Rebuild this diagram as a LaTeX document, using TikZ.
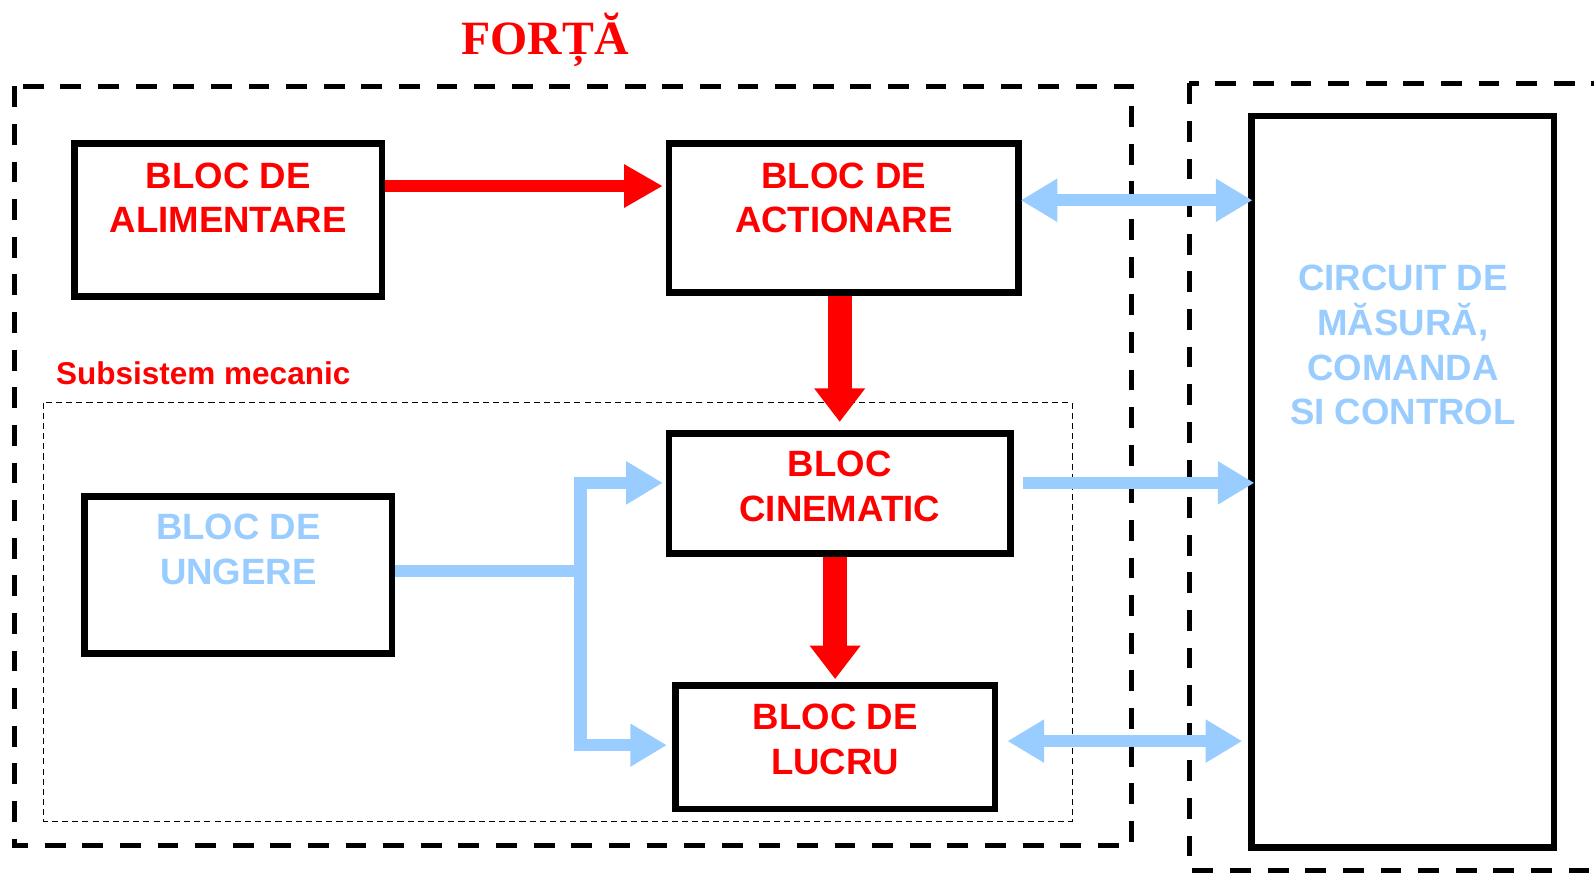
\documentclass[tikz,border=0pt]{standalone}
\usepackage{fontspec}
\setmainfont{Liberation Sans}
\newfontfamily\titlefont{Liberation Serif}
\usetikzlibrary{arrows.meta,calc}
\definecolor{myred}{RGB}{255,0,0}
\definecolor{myblue}{RGB}{153,204,255}
\tikzset{
 box/.style={draw=black, line width=6.5pt, rectangle, inner sep=0pt},
 lbl/.style={font=\fontsize{36}{44}\selectfont\bfseries, align=center, inner sep=0pt, anchor=base},
 redlbl/.style={lbl, text=myred},
 bluelbl/.style={lbl, text=myblue},
 bigdash/.style={draw=black, line width=4.6pt, dash pattern=on 20.5pt off 16.5pt},
 smalldash/.style={draw=black, line width=1.5pt, dash pattern=on 6pt off 4pt},
 redthin/.style={draw=myred, line width=12pt, -{Triangle[length=38pt,width=40pt]}},
 redthick/.style={draw=myred, line width=24pt, -{Triangle[length=33pt,width=48pt]}},
 bluearr/.style={draw=myblue, line width=12pt},
 btip/.tip={Triangle[length=36pt,width=40pt]},
}
\begin{document}
\begin{tikzpicture}[x=1pt,y=-1pt]
\useasboundingbox (0,0) rectangle (1568,859);
% dashed frames
\draw[bigdash] (14,85) rectangle (1113,832);
\draw[bigdash] (1170,82) rectangle (1640,856);
\draw[smalldash] (43,396) rectangle (1055,808);
% title and subsystem label
\node[font=\titlefont\fontsize{47}{56}\selectfont\bfseries, text=myred, anchor=base, inner sep=0pt] (title) at (536,54) {FORȚĂ};
\node[font=\fontsize{31}{37}\selectfont\bfseries, text=myred, anchor=base west, inner sep=0pt] (sub) at (55,378) {Subsistem mecanic};
% boxes
\node[box, minimum width=302.5pt, minimum height=150.5pt] (alim) at (224.5,216.5) {};
\node[box, minimum width=343.5pt, minimum height=146.5pt] (act) at (830,214.5) {};
\node[box, minimum width=335.5pt, minimum height=118.5pt] (cine) at (826,485.5) {};
\node[box, minimum width=302.5pt, minimum height=154.5pt] (ung) at (234.5,565.5) {};
\node[box, minimum width=314.5pt, minimum height=121.5pt] (lucru) at (821.5,735) {};
\node[box, minimum width=297.5pt, minimum height=719.5pt] (circ) at (1380,474) {};
% box texts (anchored at the baseline of the last line)
\node[redlbl] (alimT) at (224.5,229) {BLOC DE\\ALIMENTARE};
\node[redlbl] (actT) at (830,229) {BLOC DE\\ACTIONARE};
\node[redlbl] (cineT) at (826,513) {BLOC\\CINEMATIC};
\node[bluelbl] (ungT) at (234.5,575) {BLOC DE\\UNGERE};
\node[redlbl] (lucruT) at (821.5,762) {BLOC DE\\LUCRU};
\node[bluelbl] (circT) at (1380,418) {CIRCUIT DE\\MĂSURĂ,\\COMANDA\\SI CONTROL};
% helper levels
\coordinate (ya) at (0,183);
\coordinate (y1) at (0,197);
\coordinate (y2) at (0,475);
\coordinate (y3) at (0,733);
\coordinate (y4) at (0,729);
\coordinate (j) at (571,562);
% red arrows
\draw[redthin, shorten >=3pt] (alim.east |- ya) -- (act.west |- ya);
\draw[redthick] (act.south -| cine.north) -- ([yshift=8pt]cine.north);
\draw[redthick] (cine.south -| lucru.north) -- ([yshift=3pt]lucru.north);
% blue arrows
\draw[bluearr, {btip}-{btip}, shorten <=-1pt, shorten >=-4pt] (act.east |- y1) -- (circ.west |- y1);
\draw[bluearr, -{btip}, shorten <=9pt, shorten >=-6pt] (cine.east |- y2) -- (circ.west |- y2);
\draw[bluearr, {btip}-{btip}, shorten <=9pt, shorten >=6pt] (lucru.east |- y4) -- (circ.west |- y4);
\draw[bluearr] (ung.east |- j) -- (j);
\draw[bluearr, -{btip}, shorten >=3pt] (j) |- (cine.west |- y2);
\draw[bluearr, -{btip}, shorten >=5pt] (j) |- (lucru.west |- y3);
\end{tikzpicture}
\end{document}
